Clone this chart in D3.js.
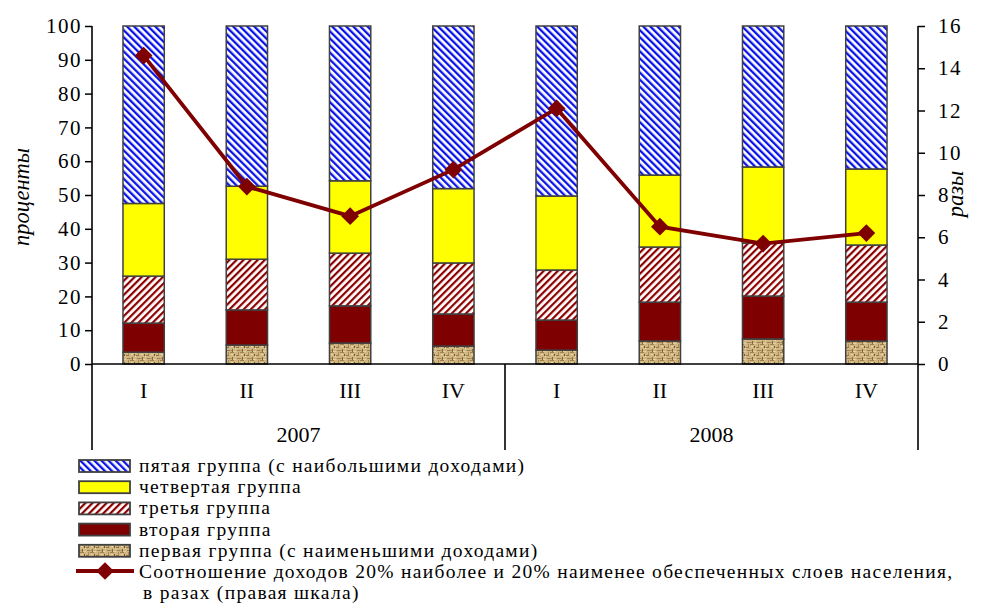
<!DOCTYPE html>
<html><head><meta charset="utf-8">
<script src="https://cdn.jsdelivr.net/npm/d3@7"></script>
<style>body{margin:0;background:#fff}svg{display:block}</style>
</head><body><svg id="c" width="987" height="607"></svg>
<script>
const quarters = ["I","II","III","IV","I","II","III","IV"];
const years = ["2007","2008"];
const categories = ["2007-I","2007-II","2007-III","2007-IV","2008-I","2008-II","2008-III","2008-IV"];
const group1 = [3.5, 5.6, 6.2, 5.3, 4.1, 6.8, 7.4, 6.8];
const group2 = [8.6, 10.4, 11.0, 9.5, 8.9, 11.5, 12.7, 11.5];
const group3 = [13.9, 15.0, 15.6, 15.1, 14.8, 16.3, 15.7, 16.9];
const group4 = [21.5, 21.6, 21.4, 22.0, 21.9, 21.3, 22.5, 22.5];
const group5 = [52.5, 47.4, 45.8, 48.1, 50.3, 44.1, 41.7, 42.3];
const ratio = [14.6, 8.4, 7.0, 9.2, 12.1, 6.5, 5.7, 6.2];
const leftTicks = [0,10,20,30,40,50,60,70,80,90,100];
const rightTicks = [0,2,4,6,8,10,12,14,16];
const seriesNames = ["пятая группа (с наибольшими доходами)","четвертая группа","третья группа","вторая группа","первая группа (с наименьшими доходами)"];
const lineName = ["Соотношение доходов 20% наиболее и 20% наименее обеспеченных слоев населения,","в разах (правая шкала)"];
const leftTitle = "проценты", rightTitle = "разы";

const FONT = "Liberation Serif";
const svg = d3.select("#c").attr("font-family",FONT);
const defs = svg.append("defs");
const p5 = defs.append("pattern").attr("id","pat5").attr("patternUnits","userSpaceOnUse").attr("width",5).attr("height",5).attr("patternTransform","rotate(-45)");
p5.append("rect").attr("width",5).attr("height",5).attr("fill","#fff");
p5.append("rect").attr("width",2.3).attr("height",5).attr("fill","#0a14e6");
const p3 = defs.append("pattern").attr("id","pat3").attr("patternUnits","userSpaceOnUse").attr("width",5).attr("height",5).attr("patternTransform","rotate(45)");
p3.append("rect").attr("width",5).attr("height",5).attr("fill","#fff");
p3.append("rect").attr("width",2.2).attr("height",5).attr("fill","#8b0000");
const p1 = defs.append("pattern").attr("id","pat1").attr("patternUnits","userSpaceOnUse").attr("width",10).attr("height",8);
p1.append("rect").attr("width",10).attr("height",8).attr("fill","#cfb683");
[[0,0,4,1,"#a0824d"],[6,3,3,1,"#957845"],[2,5,1,3,"#86693a"],[8,0,1,3,"#a88b58"],[4,2,1,2,"#735831"],[0,6,2,1,"#b0945f"],[7,6,3,1,"#9b7e49"],[5,4,1,1,"#ead9b0"],[1,2,2,1,"#ead9b0"],[3,7,3,1,"#e2cfa3"]].forEach(d=>p1.append("rect").attr("x",d[0]).attr("y",d[1]).attr("width",d[2]).attr("height",d[3]).attr("fill",d[4]));

const fills = ["url(#pat1)","#7f0000","url(#pat3)","#ffff00","url(#pat5)"];
const legendFills = ["url(#pat5)","#ffff00","url(#pat3)","#7f0000","url(#pat1)"];

const L = 92, R = 918, T = 26, B = 364;
const x = d3.scaleBand().domain(categories).range([L,R]).paddingInner(0.6).paddingOuter(0.3);
const y = d3.scaleLinear().domain([0,100]).range([B,T]);
const y2 = d3.scaleLinear().domain([0,16]).range([B,T]);

const table = categories.map((c,i)=>({cat:c, g1:group1[i], g2:group2[i], g3:group3[i], g4:group4[i], g5:group5[i]}));
const stack = d3.stack().keys(["g1","g2","g3","g4","g5"])(table);

svg.append("g").selectAll("g").data(stack).join("g")
  .attr("fill",(d,i)=>fills[i])
  .selectAll("rect").data(d=>d).join("rect")
  .attr("x",d=>x(d.data.cat)).attr("width",x.bandwidth())
  .attr("y",d=>y(d[1])).attr("height",d=>y(d[0])-y(d[1]))
  .attr("stroke","#404040").attr("stroke-width",1.5);

const gl = svg.append("g").attr("transform",`translate(${L},0)`).call(d3.axisLeft(y).tickValues(leftTicks).tickSize(7).tickPadding(3));
const gr = svg.append("g").attr("transform",`translate(${R},0)`).call(d3.axisRight(y2).tickValues(rightTicks).tickSize(7).tickPadding(13));
[gl,gr].forEach(g=>{g.attr("font-family",FONT).attr("font-size",null); g.select(".domain").remove();
  g.selectAll("text").style("font-size","21px").style("letter-spacing","1.5px").attr("fill","#000");
  g.selectAll("line").attr("stroke","#000").attr("stroke-width",1.5);});
svg.append("line").attr("x1",L).attr("x2",L).attr("y1",T).attr("y2",450).attr("stroke","#000").attr("stroke-width",1.6);
svg.append("line").attr("x1",R).attr("x2",R).attr("y1",T).attr("y2",450).attr("stroke","#000").attr("stroke-width",1.6);
svg.append("line").attr("x1",L).attr("x2",R).attr("y1",B).attr("y2",B).attr("stroke","#000").attr("stroke-width",1.6);
const midX = (x(categories[3]) + x.bandwidth() + x(categories[4]))/2;
svg.append("line").attr("x1",midX).attr("x2",midX).attr("y1",B).attr("y2",450).attr("stroke","#000").attr("stroke-width",1.6);

svg.append("g").selectAll("text").data(categories).join("text")
  .attr("x",d=>x(d)+x.bandwidth()/2).attr("y",398).attr("text-anchor","middle").style("font-size","22px")
  .text((d,i)=>quarters[i]);
svg.append("g").selectAll("text").data(years).join("text")
  .attr("x",(d,i)=> i===0 ? (L+midX)/2 : (midX+R)/2).attr("y",442).attr("text-anchor","middle").style("font-size","22px")
  .text(d=>d);

svg.append("text").attr("transform","translate(29,197) rotate(-90)").attr("text-anchor","middle").style("font-size","22.5px").style("font-style","italic").text(leftTitle);
svg.append("text").attr("transform","translate(963,194) rotate(-90)").attr("text-anchor","middle").style("font-size","22.5px").style("font-style","italic").text(rightTitle);

const cx = d=>x(d)+x.bandwidth()/2;
svg.append("path").datum(ratio).attr("fill","none").attr("stroke","#7f0000").attr("stroke-width",3.8)
  .attr("d",d3.line().x((d,i)=>cx(categories[i])).y(d=>y2(d)));
svg.append("g").selectAll("path").data(ratio).join("path")
  .attr("transform",(d,i)=>`translate(${cx(categories[i])},${y2(d)})`)
  .attr("d",d3.symbol().type(d3.symbolDiamond2).size(200)).attr("fill","#7f0000");

const lg = svg.append("g");
const LFS = "19.5px", LLS = "1.3px";
seriesNames.forEach((n,i)=>{
  const yy = 460 + i*21.2;
  lg.append("rect").attr("x",79).attr("y",yy).attr("width",51).attr("height",12).attr("fill",legendFills[i]).attr("stroke","#404040").attr("stroke-width",1.8);
  lg.append("text").attr("x",139).attr("y",yy+12).style("font-size",LFS).style("letter-spacing",LLS).text(n);
});
const ly = 571;
lg.append("line").attr("x1",76).attr("x2",134).attr("y1",ly).attr("y2",ly).attr("stroke","#7f0000").attr("stroke-width",3.8);
lg.append("path").attr("transform",`translate(105,${ly})`).attr("d",d3.symbol().type(d3.symbolDiamond2).size(200)).attr("fill","#7f0000");
lg.append("text").attr("x",139).attr("y",578).style("font-size",LFS).style("letter-spacing",LLS).text(lineName[0]);
lg.append("text").attr("x",143).attr("y",599).style("font-size",LFS).style("letter-spacing",LLS).text(lineName[1]);
</script></body></html>
